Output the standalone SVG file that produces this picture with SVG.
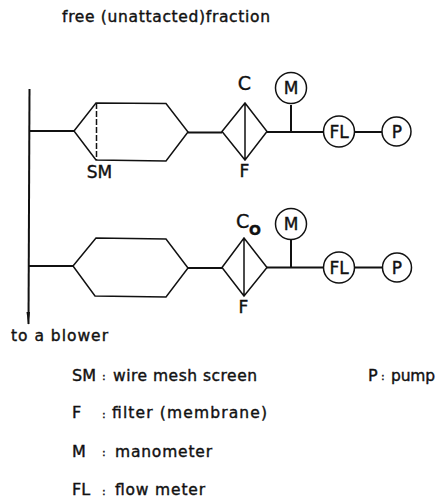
<svg xmlns="http://www.w3.org/2000/svg" width="439" height="498" viewBox="0 0 439 498">
<style>
.l{fill:none;stroke:#111;stroke-width:1.5;stroke-linejoin:miter}
.h{fill:none;stroke:#111;stroke-width:2;stroke-linecap:butt}
.n{fill:#fff;stroke:#111;stroke-width:1.5}
text{font-family:"DejaVu Sans",Arial,sans-serif;fill:#111;stroke:#111;stroke-width:0.4px}
.m{font-size:15.5px}
.k{font-size:16px}
.d{font-size:11px}
.c{font-size:17px;text-anchor:middle}
</style>
<rect width="439" height="498" fill="#fff"/>
<g id="connectors">
<path class="h" d="M29.500 89L28.500 324"/>
<path fill="#111" d="M26.500 312L30 312L28.300 325Z"/>
<path class="h" d="M29 131H74M188 132.500H222M267 132H324M354 132H382"/>
<path class="h" d="M291 105V132"/>
<path class="h" d="M29 266H73M188 268H222M267 267.500H324M354 267.500H382"/>
<path class="h" d="M291 240V267"/>
</g>
<g id="hex-sm">
<path class="l" d="M74 131L96 103L166 103.500L188 132L166 161L96 160Z"/>
<path class="l" d="M96.500 103V160" stroke-dasharray="6 2"/>
<text class="c" x="99.500" y="178" style="font-size:17px">SM</text>
</g>
<g id="filter-c">
<path class="l" d="M222 131.500L245 103L267 131.500L245 160ZM245 103V160"/>
<text class="c" x="244.500" y="90" style="font-size:19px">C</text>
<text class="c" x="244.500" y="177">F</text>
</g>
<g id="manometer-1"><circle class="n" cx="291" cy="88" r="15.500"/><text class="c" x="291" y="94">M</text></g>
<g id="flowmeter-1"><circle class="n" cx="339" cy="131.500" r="15.500"/><text class="c" x="339" y="138">FL</text></g>
<g id="pump-1"><circle class="n" cx="396.500" cy="131.500" r="14.500"/><text class="c" x="397" y="137.500">P</text></g>
<g id="hex-plain">
<path class="l" d="M73 266L96 238L166 239L188 268L166 297L95 296Z"/>
</g>
<g id="filter-c0">
<path class="l" d="M222 267.500L244 238L267 267.500L244 296ZM244 238V296"/>
<text x="236" y="228" style="font-size:19px">C</text>
<text x="249" y="235" style="font-size:14px;font-weight:bold">O</text>
<text class="c" x="243.500" y="313">F</text>
</g>
<g id="manometer-2"><circle class="n" cx="291" cy="224" r="15.500"/><text class="c" x="291" y="230">M</text></g>
<g id="flowmeter-2"><circle class="n" cx="339" cy="267.500" r="15.500"/><text class="c" x="339" y="274">FL</text></g>
<g id="pump-2"><circle class="n" cx="397" cy="267.500" r="14.500"/><text class="c" x="397" y="273.500">P</text></g>
<g id="labels">
<text class="m" x="62" y="22" textLength="208">free (unattacted)fraction</text>
<text class="m" x="11" y="341" textLength="97">to a blower</text>
<text class="k" x="72" y="381">SM</text>
<text class="d" x="102" y="380">:</text>
<text class="m" x="113" y="381" textLength="144">wire mesh screen</text>
<text class="k" x="368" y="381">P</text>
<text class="d" x="381" y="380">:</text>
<text class="m" x="391" y="381" textLength="44">pump</text>
<text class="k" x="72" y="418">F</text>
<text class="d" x="102" y="418">:</text>
<text class="m" x="112" y="418" textLength="155">filter (membrane)</text>
<text class="k" x="72" y="457">M</text>
<text class="d" x="102" y="456">:</text>
<text class="m" x="115" y="457" textLength="97">manometer</text>
<text class="k" x="72" y="495">FL</text>
<text class="d" x="102" y="495">:</text>
<text class="m" x="115" y="495" textLength="90">flow meter</text>
</g>
</svg>
